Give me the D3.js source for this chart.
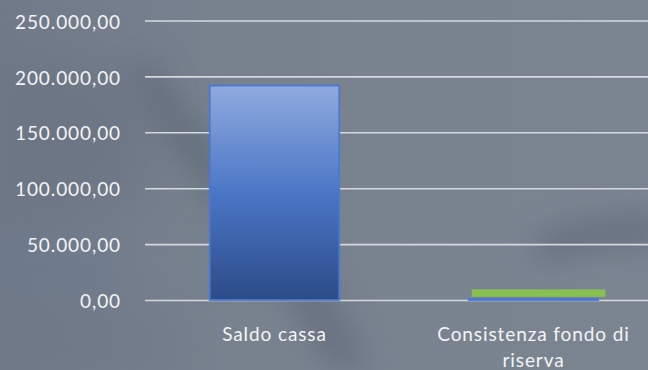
<!DOCTYPE html>
<html>
<head>
<meta charset="utf-8">
<script src="https://cdn.jsdelivr.net/npm/d3@7"></script>
<style>
  html, body { margin: 0; padding: 0; background: #78828f; }
  svg { display: block; }
</style>
</head>
<body>
<svg id="chart" width="648" height="370"></svg>
<script>
// Categories and series
const categories = ["Saldo cassa", "Consistenza fondo di riserva"];
const saldoValues = [191800, 1000];
const fondoValues = [0, 8500];
const yTicks = [0, 50000, 100000, 150000, 200000, 250000];

const W = 648, H = 370;
const svg = d3.select("#chart");
const defs = svg.append("defs");

// Background: muted slate with soft dark smudges
const bg = defs.append("linearGradient").attr("id", "bgGrad")
  .attr("x1", 0).attr("y1", 0).attr("x2", 1).attr("y2", 0);
bg.append("stop").attr("offset", "0%").attr("stop-color", "#707a89");
bg.append("stop").attr("offset", "35%").attr("stop-color", "#78828f");
bg.append("stop").attr("offset", "100%").attr("stop-color", "#7b8592");

defs.append("filter").attr("id", "soft")
  .attr("x", "-50%").attr("y", "-50%").attr("width", "200%").attr("height", "200%")
  .append("feGaussianBlur").attr("stdDeviation", 14);
defs.append("filter").attr("id", "softer")
  .attr("x", "-50%").attr("y", "-50%").attr("width", "200%").attr("height", "200%")
  .append("feGaussianBlur").attr("stdDeviation", 26);

svg.append("rect").attr("width", W).attr("height", H).attr("fill", "url(#bgGrad)");

const smudges = svg.append("g");
smudges.append("path")
  .attr("d", "M150,60 C190,110 240,170 300,240 C330,280 350,320 370,370 L330,370 C300,320 260,260 210,200 C170,150 140,110 130,70 Z")
  .attr("fill", "#5d6677").attr("opacity", 0.55).attr("filter", "url(#soft)");
smudges.append("path")
  .attr("d", "M0,60 L140,70 L150,200 L0,220 Z")
  .attr("fill", "#666f7f").attr("opacity", 0.5).attr("filter", "url(#softer)");
smudges.append("path")
  .attr("d", "M0,240 L120,250 L110,290 L0,280 Z")
  .attr("fill", "#6b7a92").attr("opacity", 0.45).attr("filter", "url(#soft)");
smudges.append("path")
  .attr("d", "M530,240 C570,215 620,215 660,210 L660,250 C620,245 580,250 545,265 Z")
  .attr("fill", "#5d6677").attr("opacity", 0.6).attr("filter", "url(#soft)");
smudges.append("path")
  .attr("d", "M0,300 L160,310 L200,370 L0,370 Z")
  .attr("fill", "#6a7584").attr("opacity", 0.4).attr("filter", "url(#softer)");

// Scales
const plotLeft = 145, plotRight = 648;
const x = d3.scaleBand().domain(categories)
  .range([plotLeft, 663]).paddingInner(0.5).paddingOuter(0.25);
const y = d3.scaleLinear().domain([0, 250000]).range([300, 20.5]);

const it = d3.formatLocale({ decimal: ",", thousands: ".", grouping: [3], currency: ["€", ""] });
const fmt = it.format(",.2f");

// Value axis with gridlines
const yAxis = d3.axisLeft(y).tickValues(yTicks).tickFormat(fmt)
  .tickSizeInner(-(plotRight - plotLeft)).tickSizeOuter(0).tickPadding(24);
const gy = svg.append("g").attr("transform", `translate(${plotLeft},0)`).call(yAxis);
gy.select(".domain").remove();
gy.selectAll(".tick line").attr("stroke", "#d6d8dc").attr("stroke-width", 1.6);
gy.selectAll(".tick text")
  .attr("fill", "#f4f4f4").attr("font-family", "Lato, 'Open Sans', sans-serif")
  .attr("font-size", 19).attr("letter-spacing", 0.9).attr("dy", "0.4em");

// Bar gradient
const bgr = defs.append("linearGradient").attr("id", "barGrad")
  .attr("x1", 0).attr("y1", 0).attr("x2", 0).attr("y2", 1);
bgr.append("stop").attr("offset", "0%").attr("stop-color", "#8faade");
bgr.append("stop").attr("offset", "50%").attr("stop-color", "#4b76c6");
bgr.append("stop").attr("offset", "100%").attr("stop-color", "#2c4b88");

// Saldo series
svg.append("g").selectAll("rect").data(categories).join("rect")
  .attr("x", d => x(d))
  .attr("width", x.bandwidth())
  .attr("y", (d, i) => y(saldoValues[i]))
  .attr("height", (d, i) => y(0) - y(saldoValues[i]))
  .attr("fill", "url(#barGrad)")
  .attr("stroke", "#4a78d2").attr("stroke-width", 1.8);

// Fondo series, stacked on top
svg.append("g").selectAll("rect").data(categories).join("rect")
  .attr("x", d => x(d) + 3)
  .attr("width", x.bandwidth() + 4)
  .attr("y", (d, i) => y(saldoValues[i] + fondoValues[i]))
  .attr("height", (d, i) => Math.max(0, y(saldoValues[i]) - y(saldoValues[i] + fondoValues[i]) - 2))
  .attr("fill", "#88c152")
  .attr("display", (d, i) => fondoValues[i] > 0 ? null : "none");

// Category labels, wrapped to two lines where needed
const catLines = { "Saldo cassa": ["Saldo cassa"], "Consistenza fondo di riserva": ["Consistenza fondo di", "riserva"] };
const gx = svg.append("g");
categories.forEach(c => {
  const t = gx.append("text")
    .attr("x", x(c) + x.bandwidth() / 2)
    .attr("y", 341)
    .attr("text-anchor", "middle")
    .attr("fill", "#f4f4f4")
    .attr("font-family", "Lato, 'Open Sans', sans-serif")
    .attr("font-size", 19)
    .attr("letter-spacing", 0.9);
  catLines[c].forEach((line, i) => {
    t.append("tspan").attr("x", x(c) + x.bandwidth() / 2).attr("dy", i === 0 ? 0 : 26).text(line);
  });
});
</script>
</body>
</html>
